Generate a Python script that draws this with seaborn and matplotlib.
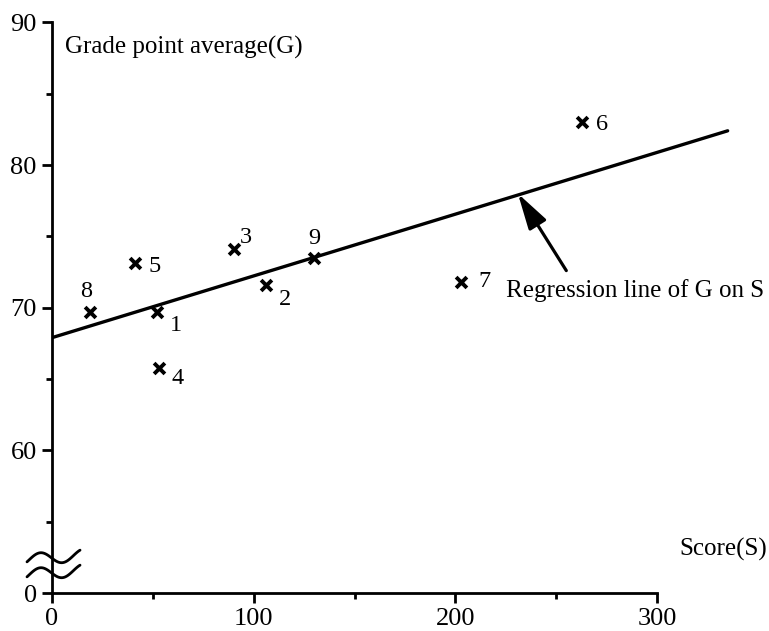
import numpy as np
import pandas as pd
import matplotlib
matplotlib.use("Agg")
import matplotlib.pyplot as plt
import seaborn as sns

# ---- data ----
labels = ["1", "2", "3", "4", "5", "6", "7", "8", "9"]
score = [52, 106, 90, 53, 41, 263, 203, 19, 130]
gpa = [69.7, 71.6, 74.1, 65.8, 73.1, 83.0, 71.8, 69.7, 73.5]
# label offsets (points) relative to each marker
label_dx = [13.7, 14.0, 8.6, 13.7, 14.4, 14.4, 16.6, -3.0, 0.0]
label_dy = [-9.4, -10.8, 8.6, -8.0, -2.0, -1.4, 0.7, 15.0, 13.7]

reg_x = [0, 335]
reg_y = [67.9, 82.4]

x_ticks = [0, 100, 200, 300]
x_minor = [50, 150, 250]
y_ticks = [50, 60, 70, 80, 90]
y_tick_labels = ["0", "60", "70", "80", "90"]
y_minor = [55, 65, 75, 85]

df = pd.DataFrame({"S": score, "G": gpa, "label": labels})
reg = pd.DataFrame({"S": reg_x, "G": reg_y})

sns.set_theme(style="ticks")
plt.rcParams["font.family"] = ["Liberation Serif", "DejaVu Serif"]
plt.rcParams["text.color"] = "black"
plt.rcParams["xtick.color"] = "black"
plt.rcParams["ytick.color"] = "black"

W, H = 769, 631
fig = plt.figure(figsize=(W / 100, H / 100), dpi=100)
# axes placement: x=0 at px 52, y=50 at px 593
ax = fig.add_axes([52 / W, (H - 593) / H, 716 / W, 592 / H])
ax.set_xlim(0, 355)
ax.set_ylim(50, 91.5)

sns.lineplot(data=reg, x="S", y="G", ax=ax, color="black", linewidth=2.4)
sns.scatterplot(data=df, x="S", y="G", ax=ax, marker="x", s=60,
                color="black", linewidth=2.8, zorder=5)

for _, r in df.iterrows():
    i = labels.index(r["label"])
    ax.annotate(r["label"], (r["S"], r["G"]), xytext=(label_dx[i], label_dy[i]),
                textcoords="offset points", ha="center", va="center",
                fontsize=17.5, color="black")

# arrow to the regression line
ax.annotate("", xy=(231, 78.0), xytext=(255, 72.6),
            arrowprops=dict(arrowstyle="-|>,head_length=1.0,head_width=0.28",
                            lw=2.3, color="black", mutation_scale=22,
                            shrinkA=0, shrinkB=0))
ax.text(225.0, 70.73, "Regression line of G on S", fontsize=18,
        ha="left", va="baseline", color="black")
ax.text(6.5, 87.8, "Grade point average(G)", fontsize=18,
        ha="left", va="baseline", color="black")
ax.text(354.5, 52.6, "Score(S)", fontsize=18, ha="right", va="baseline",
        color="black")

# axes styling
for s in ["top", "right"]:
    ax.spines[s].set_visible(False)
ax.spines["left"].set_bounds(50, 90)
ax.spines["bottom"].set_bounds(0, 300)
for s in ["left", "bottom"]:
    ax.spines[s].set_linewidth(2.0)
    ax.spines[s].set_color("black")

ax.set_xticks(x_ticks)
ax.set_xticklabels([str(t) for t in x_ticks])
ax.set_xticks(x_minor, minor=True)
ax.set_yticks(y_ticks)
ax.set_yticklabels(y_tick_labels)
ax.set_yticks(y_minor, minor=True)
ax.tick_params(axis="both", which="major", direction="out", length=7,
               width=2.0, labelsize=19, pad=4, color="black", labelcolor="black")
ax.tick_params(axis="both", which="minor", direction="out", length=4,
               width=2.0, color="black")
ax.set_xlabel("")
ax.set_ylabel("")

# axis break marks (decoration)
t = np.linspace(0, 1, 80)
bx = -12.4 + 26.3 * t
for off in (0, 15):
    ypx = 560 + off - 6 * np.sin(2 * np.pi * (t * 1.2 - 0.05)) - 5 * t
    by = 50 + (593 - ypx) / 14.27
    ax.plot(bx, by, color="black", lw=2.0, clip_on=False, solid_capstyle="round")

fig.savefig("out.png", dpi=100, facecolor="white")
